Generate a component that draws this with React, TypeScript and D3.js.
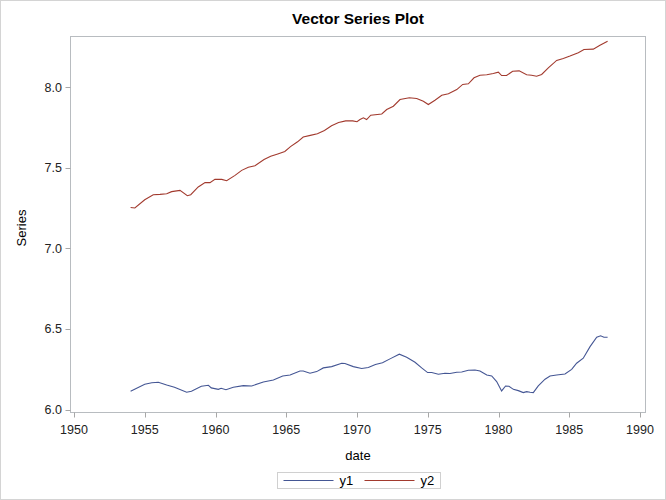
import React from "react";
import * as d3 from "d3";

const title = "Vector Series Plot";
const xTicks = [1950, 1955, 1960, 1965, 1970, 1975, 1980, 1985, 1990];
const yTicks = [6.0, 6.5, 7.0, 7.5, 8.0];
const seriesNames = ["y1", "y2"];

const y1Dates = [1954.0, 1955.0, 1955.5, 1955.96, 1956.55, 1957.1, 1957.96, 1958.3, 1959.0, 1959.5, 1959.7, 1960.2, 1960.4, 1960.74, 1961.26, 1961.97, 1962.56, 1963.38, 1964.09, 1964.75, 1965.27, 1965.97, 1966.2, 1966.68, 1967.15, 1967.62, 1968.21, 1968.92, 1969.15, 1969.74, 1970.33, 1970.8, 1971.3, 1971.8, 1972.4, 1972.99, 1973.51, 1974.1, 1974.57, 1974.99, 1975.28, 1975.75, 1976.22, 1976.57, 1977.05, 1977.4, 1977.87, 1978.34, 1978.69, 1979.17, 1979.52, 1979.87, 1980.22, 1980.5, 1980.74, 1981.05, 1981.4, 1981.75, 1981.99, 1982.23, 1982.46, 1982.81, 1983.29, 1983.64, 1984.11, 1984.7, 1985.17, 1985.52, 1985.99, 1986.47, 1986.94, 1987.22, 1987.45, 1987.71];
const y1Values = [6.113, 6.157, 6.166, 6.169, 6.152, 6.138, 6.107, 6.113, 6.144, 6.15, 6.134, 6.125, 6.132, 6.123, 6.138, 6.148, 6.146, 6.171, 6.183, 6.208, 6.214, 6.239, 6.239, 6.225, 6.235, 6.258, 6.266, 6.287, 6.285, 6.266, 6.254, 6.26, 6.279, 6.29, 6.317, 6.343, 6.324, 6.293, 6.258, 6.229, 6.229, 6.219, 6.225, 6.223, 6.231, 6.233, 6.243, 6.245, 6.239, 6.214, 6.208, 6.173, 6.115, 6.146, 6.144, 6.125, 6.117, 6.105, 6.111, 6.107, 6.105, 6.146, 6.188, 6.208, 6.214, 6.22, 6.249, 6.287, 6.318, 6.39, 6.448, 6.457, 6.448, 6.448];

const y2Dates = [1954.0, 1954.3, 1955.0, 1955.6, 1956.08, 1956.55, 1956.9, 1957.49, 1958.01, 1958.25, 1958.78, 1959.26, 1959.61, 1959.96, 1960.44, 1960.79, 1961.38, 1961.85, 1962.32, 1962.79, 1963.43, 1963.9, 1964.4, 1964.9, 1965.3, 1965.8, 1966.2, 1966.7, 1967.2, 1967.7, 1968.2, 1968.7, 1969.2, 1969.7, 1970.0, 1970.21, 1970.45, 1970.68, 1970.97, 1971.75, 1972.1, 1972.57, 1973.04, 1973.7, 1974.22, 1974.69, 1975.04, 1975.51, 1975.99, 1976.46, 1977.05, 1977.47, 1977.87, 1978.27, 1978.69, 1979.17, 1979.63, 1979.99, 1980.22, 1980.57, 1981.0, 1981.46, 1981.99, 1982.34, 1982.69, 1983.05, 1983.52, 1984.11, 1984.58, 1985.05, 1985.64, 1986.04, 1986.7, 1987.17, 1987.71];
const y2Values = [7.253, 7.25, 7.301, 7.332, 7.334, 7.338, 7.351, 7.359, 7.326, 7.332, 7.38, 7.407, 7.407, 7.427, 7.427, 7.419, 7.452, 7.483, 7.502, 7.512, 7.55, 7.57, 7.585, 7.6, 7.63, 7.66, 7.69, 7.7, 7.71, 7.73, 7.76, 7.78, 7.79, 7.79, 7.785, 7.798, 7.809, 7.798, 7.825, 7.833, 7.86, 7.881, 7.922, 7.933, 7.929, 7.912, 7.891, 7.918, 7.949, 7.958, 7.984, 8.016, 8.02, 8.057, 8.073, 8.076, 8.084, 8.092, 8.071, 8.071, 8.098, 8.1, 8.076, 8.073, 8.067, 8.078, 8.119, 8.165, 8.177, 8.192, 8.213, 8.233, 8.235, 8.259, 8.284];

const colors = ["#445694", "#A23A2E"];
const W = 666;
const H = 500;
const font = "'Liberation Sans', Arial, sans-serif";

export default function App() {
  const frame = { left: 70.5, right: 645.5, top: 36.5, bottom: 412.5 };
  const x = d3.scaleLinear().domain([1950, 1990]).range([74, 640]);
  const y = d3.scaleLinear().domain([6, 8]).range([409.5, 87]);
  const line = d3
    .line<[number, number]>()
    .x((d) => x(d[0]))
    .y((d) => y(d[1]));
  const s1 = y1Dates.map((d, i) => [d, y1Values[i]] as [number, number]);
  const s2 = y2Dates.map((d, i) => [d, y2Values[i]] as [number, number]);
  const axisColor = "#A7A7A7";
  const frameColor = "#B8BCC0";
  const legendX = 277.5;
  const legendY = 472.5;
  return (
    <svg
      width={W}
      height={H}
      style={{ position: "absolute", left: 0, top: 0, background: "#fff" }}
      fontFamily={font}
    >
      <rect x={0.5} y={0.5} width={W - 1} height={H - 1} fill="#fff" stroke="#D4D4D4" />
      <text x={358} y={24} textAnchor="middle" fontSize={15.5} fontWeight="bold" fill="#000">
        {title}
      </text>
      <rect
        x={frame.left}
        y={frame.top}
        width={frame.right - frame.left}
        height={frame.bottom - frame.top}
        fill="none"
        stroke={frameColor}
      />
      <path d={line(s1) || ""} fill="none" stroke={colors[0]} strokeWidth={1.1} />
      <path d={line(s2) || ""} fill="none" stroke={colors[1]} strokeWidth={1.1} />
      {xTicks.map((t) => (
        <g key={t}>
          <line x1={Math.round(x(t)) + 0.5} x2={Math.round(x(t)) + 0.5} y1={frame.bottom} y2={frame.bottom + 5} stroke={axisColor} />
          <text x={x(t)} y={434} textAnchor="middle" fontSize={12.5} fill="#222">
            {t}
          </text>
        </g>
      ))}
      {yTicks.map((t) => (
        <g key={t}>
          <line x1={frame.left - 5} x2={frame.left} y1={Math.round(y(t)) + 0.5} y2={Math.round(y(t)) + 0.5} stroke={axisColor} />
          <text x={62} y={y(t) + 4.5} textAnchor="end" fontSize={12.5} fill="#222">
            {t.toFixed(1)}
          </text>
        </g>
      ))}
      <text x={358} y={460} textAnchor="middle" fontSize={13} fill="#000">
        date
      </text>
      <text transform="translate(26,228) rotate(-90)" textAnchor="middle" fontSize={13} fill="#000">
        Series
      </text>
      <rect x={legendX} y={legendY} width={163} height={16} fill="#fff" stroke="#D0D0D0" />
      {seriesNames.map((n, i) => (
        <g key={n}>
          <line x1={legendX + 6 + i * 81} x2={legendX + 56 + i * 81} y1={legendY + 8} y2={legendY + 8} stroke={colors[i]} strokeWidth={1.1} />
          <text x={legendX + 62 + i * 81} y={legendY + 12.5} fontSize={13} fill="#000">
            {n}
          </text>
        </g>
      ))}
    </svg>
  );
}
